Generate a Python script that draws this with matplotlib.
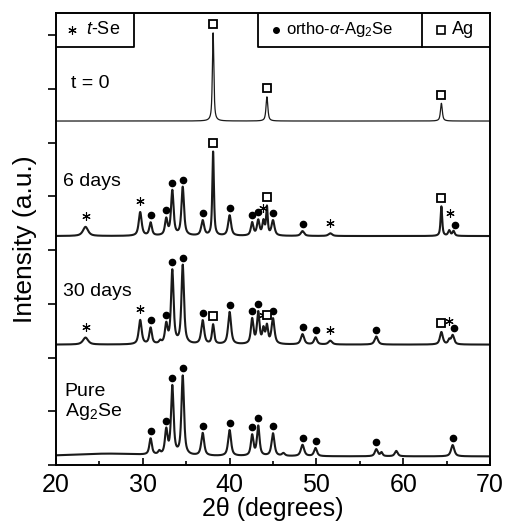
import numpy as np
import matplotlib
matplotlib.use("Agg")
import matplotlib.pyplot as plt

plt.rcParams["font.family"] = ["Liberation Sans", "DejaVu Sans"]
plt.rcParams["mathtext.fontset"] = "custom"
plt.rcParams["mathtext.rm"] = "Liberation Sans"
plt.rcParams["mathtext.it"] = "Liberation Sans:italic"

# peak lists: position (2theta), height above baseline, FWHM
pure_pos = [26.0, 30.9, 31.9, 32.7, 33.4, 34.6, 36.9, 40.0, 42.6, 43.3, 45.0, 46.2, 48.4, 49.9, 56.9, 57.5, 59.2, 65.7]
pure_amp = [0.05, 0.30, 0.06, 0.45, 1.27, 1.47, 0.42, 0.48, 0.38, 0.55, 0.42, 0.05, 0.21, 0.15, 0.13, 0.07, 0.10, 0.21]
pure_fw = [10.0, 0.35, 0.3, 0.35, 0.35, 0.35, 0.4, 0.4, 0.35, 0.35, 0.4, 0.4, 0.45, 0.4, 0.4, 0.3, 0.4, 0.45]
pure_base = 0.16

d30_pos = [23.4, 29.7, 30.9, 32.0, 32.7, 33.4, 34.6, 36.9, 38.1, 40.0, 42.6, 43.3, 43.9, 44.3, 45.0, 48.4, 49.9, 51.6, 56.9, 64.4, 65.3, 65.7]
d30_amp = [0.13, 0.45, 0.30, 0.05, 0.35, 1.36, 1.46, 0.44, 0.36, 0.60, 0.46, 0.58, 0.26, 0.32, 0.47, 0.19, 0.13, 0.07, 0.15, 0.23, 0.08, 0.17]
d30_fw = [0.7, 0.4, 0.35, 0.3, 0.35, 0.35, 0.35, 0.4, 0.3, 0.4, 0.35, 0.35, 0.3, 0.3, 0.4, 0.45, 0.4, 0.5, 0.45, 0.4, 0.3, 0.4]
d30_base = 2.24

d6_pos = [23.4, 29.7, 30.9, 32.7, 33.4, 34.6, 36.9, 38.1, 40.0, 42.6, 43.3, 43.9, 44.3, 45.0, 48.4, 51.6, 64.4, 65.3, 65.8]
d6_amp = [0.17, 0.44, 0.24, 0.30, 0.83, 0.90, 0.28, 1.56, 0.38, 0.24, 0.28, 0.26, 0.52, 0.28, 0.09, 0.05, 0.55, 0.10, 0.09]
d6_fw = [0.7, 0.4, 0.35, 0.35, 0.35, 0.35, 0.4, 0.22, 0.4, 0.35, 0.35, 0.3, 0.22, 0.4, 0.45, 0.5, 0.22, 0.3, 0.3]
d6_base = 4.26

t0_pos = [38.1, 44.3, 64.4]
t0_amp = [1.64, 0.45, 0.33]
t0_fw = [0.2, 0.25, 0.25]
t0_base = 6.40

# phase markers for each pattern
pure_dots = [30.9, 32.7, 33.4, 34.6, 36.9, 40.0, 42.6, 43.3, 45.0, 48.4, 49.9, 56.9, 65.7]
d30_dots = [30.9, 32.7, 33.4, 34.6, 36.9, 40.0, 42.6, 43.3, 45.0, 48.4, 49.9, 56.9, 65.8]
d30_stars = [23.4, 29.7, 43.9, 51.6, 65.3]
d30_squares = [38.1, 44.3, 64.4]
d6_dots = [30.9, 32.7, 33.4, 34.6, 36.9, 40.0, 42.6, 43.3, 45.0, 48.4, 66.0]
d6_stars = [23.4, 29.7, 43.9, 51.6, 65.4]
d6_squares = [38.1, 44.3, 64.4]
t0_squares = [38.1, 44.3, 64.4]

x = np.linspace(20, 70, 5001)


def pattern(pos, amp, fw, base):
    y = np.full_like(x, base)
    for p, a, w in zip(pos, amp, fw):
        hw = w / 2
        lor = 1 / (1 + ((x - p) / hw) ** 2)
        gau = np.exp(-np.log(2) * ((x - p) / hw) ** 2)
        y += a * (0.75 * lor + 0.25 * gau)
    return y


fig = plt.figure(figsize=(5.05, 5.28), dpi=100)
ax = fig.add_axes([56 / 505, 63 / 528, 434 / 505, 452 / 528])

traces = [
    (pure_pos, pure_amp, pure_fw, pure_base, pure_dots, [], [], 1.5),
    (d30_pos, d30_amp, d30_fw, d30_base, d30_dots, d30_stars, d30_squares, 1.5),
    (d6_pos, d6_amp, d6_fw, d6_base, d6_dots, d6_stars, d6_squares, 1.5),
    (t0_pos, t0_amp, t0_fw, t0_base, [], [], t0_squares, 0.9),
]

for pos, amp, fw, base, dots, stars, squares, lw in traces:
    y = pattern(pos, amp, fw, base)
    ax.plot(x, y, color="#1a1a1a", lw=lw)
    top = lambda p: y[np.abs(x - p) < 0.12].max()
    for p in dots:
        ax.plot(p, top(p) + 0.13, "o", ms=4.5, color="black")
    for p in stars:
        # stars next to a dot at the right end sit a little higher
        lift = 0.32 if p > 65 else 0.2
        ax.plot(p, top(p) + lift, marker=(6, 2, 0), ms=6, mew=0.8, color="black", ls="none")
    for p in squares:
        ax.plot(p, top(p) + 0.16, "s", ms=6, mfc="white", mec="black", mew=1.3)

# legend boxes along the top edge
ytop = 8.41
ybox = 7.78
ax.plot([29.0, 29.0, 20], [ytop, ybox, ybox], color="black", lw=1.3)
ax.plot([43.27, 43.27, 70], [ytop, ybox, ybox], color="black", lw=1.3)
ax.plot([62.17, 62.17], [ytop, ybox], color="black", lw=1.3)
ymid = (ytop + ybox) / 2
ax.plot(21.8, ymid, marker=(6, 2, 0), ms=6, mew=0.8, color="black")
ax.text(23.4, ymid, "$t$-Se", fontsize=13, va="center", ha="left")
ax.plot(45.3, ymid, "o", ms=4, color="black")
ax.text(46.5, ymid, r"ortho-$\alpha$-Ag$_2$Se", fontsize=12, va="center", ha="left")
ax.plot(64.35, ymid, "s", ms=5.5, mfc="white", mec="black", mew=1.2)
ax.text(65.6, ymid, "Ag", fontsize=13, va="center", ha="left")

# pattern labels
ax.text(21.7, 7.09, "t = 0", fontsize=14, va="center")
ax.text(20.8, 5.27, "6 days", fontsize=14, va="center")
ax.text(20.8, 3.22, "30 days", fontsize=14, va="center")
ax.text(21.0, 1.16, "Pure\nAg$_2$Se", fontsize=14, va="center", linespacing=1.1)

ax.set_xlim(20, 70)
ax.set_ylim(0, ytop)
ax.set_xticks(range(20, 71, 10))
ax.set_xticks(range(25, 70, 10), minor=True)
ax.set_yticks(range(0, 9))
ax.set_yticklabels([])
ax.tick_params(axis="x", which="both", direction="in", labelsize=18, width=1.2, pad=6)
ax.tick_params(axis="x", which="major", length=5)
ax.tick_params(axis="x", which="minor", length=3)
ax.tick_params(axis="y", direction="out", length=6, width=1.2)
for s in ax.spines.values():
    s.set_linewidth(1.4)
ax.set_xlabel("2θ (degrees)", fontsize=18, labelpad=0)
ax.set_ylabel("Intensity (a.u.)", fontsize=19, labelpad=4)

fig.savefig("out.png", dpi=100)
